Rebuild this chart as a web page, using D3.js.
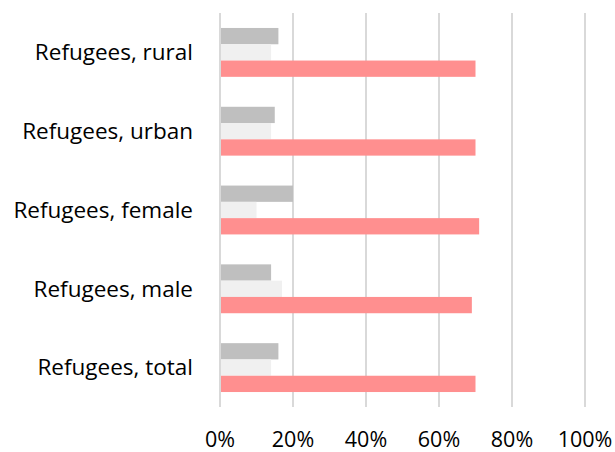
<!DOCTYPE html>
<html>
<head>
<meta charset="utf-8">
<script src="https://cdn.jsdelivr.net/npm/d3@7"></script>
<style>
  html, body { margin: 0; padding: 0; background: #fff; }
  svg text { font-family: "Open Sans", Lato, sans-serif; fill: #000; }
</style>
</head>
<body>
<svg id="chart" width="615" height="452"></svg>
<script>
const categories = ["Refugees, rural", "Refugees, urban", "Refugees, female", "Refugees, male", "Refugees, total"];
const seriesNames = ["A", "B", "C"];
const seriesA = [0.16, 0.15, 0.20, 0.14, 0.16];
const seriesB = [0.14, 0.14, 0.10, 0.17, 0.14];
const seriesC = [0.70, 0.70, 0.71, 0.69, 0.70];
const tickValues = [0, 0.2, 0.4, 0.6, 0.8, 1.0];
const colors = ["#bfbfbf", "#f0f0f0", "#ff8f8f"];

const svg = d3.select("#chart");
const x = d3.scaleLinear().domain([0, 1]).range([220, 585]);
const y = d3.scaleBand().domain(categories).range([13, 407]).paddingInner(0.38).paddingOuter(0.19);
const ySub = d3.scaleBand().domain(seriesNames).range([0, y.bandwidth()]);

// gridlines
svg.append("g").selectAll("line").data(tickValues).join("line")
  .attr("x1", d => x(d)).attr("x2", d => x(d))
  .attr("y1", 13).attr("y2", 407)
  .attr("stroke", "#d9d9d9").attr("stroke-width", 2);

const data = categories.map((c, i) => ({cat: c, vals: [seriesA[i], seriesB[i], seriesC[i]]}));

const groups = svg.append("g").selectAll("g").data(data).join("g")
  .attr("transform", d => `translate(0,${y(d.cat)})`);
groups.selectAll("rect").data(d => d.vals.map((v, j) => ({s: seriesNames[j], v, j}))).join("rect")
  .attr("x", x(0) + 1)
  .attr("y", d => ySub(d.s))
  .attr("width", d => x(d.v) - x(0) - 1)
  .attr("height", ySub.bandwidth())
  .attr("fill", d => colors[d.j]);

// category labels
svg.append("g").selectAll("text").data(categories).join("text")
  .attr("x", 193)
  .attr("y", d => y(d) + y.bandwidth() / 2)
  .attr("dy", "0.35em")
  .attr("text-anchor", "end")
  .attr("font-size", 22.5)
  .text(d => d);

// x tick labels
svg.append("g").selectAll("text").data(tickValues).join("text")
  .attr("x", d => x(d))
  .attr("y", 447)
  .attr("text-anchor", "middle")
  .attr("font-size", 21.5)
  .text(d => d3.format(".0%")(d));
</script>
</body>
</html>
